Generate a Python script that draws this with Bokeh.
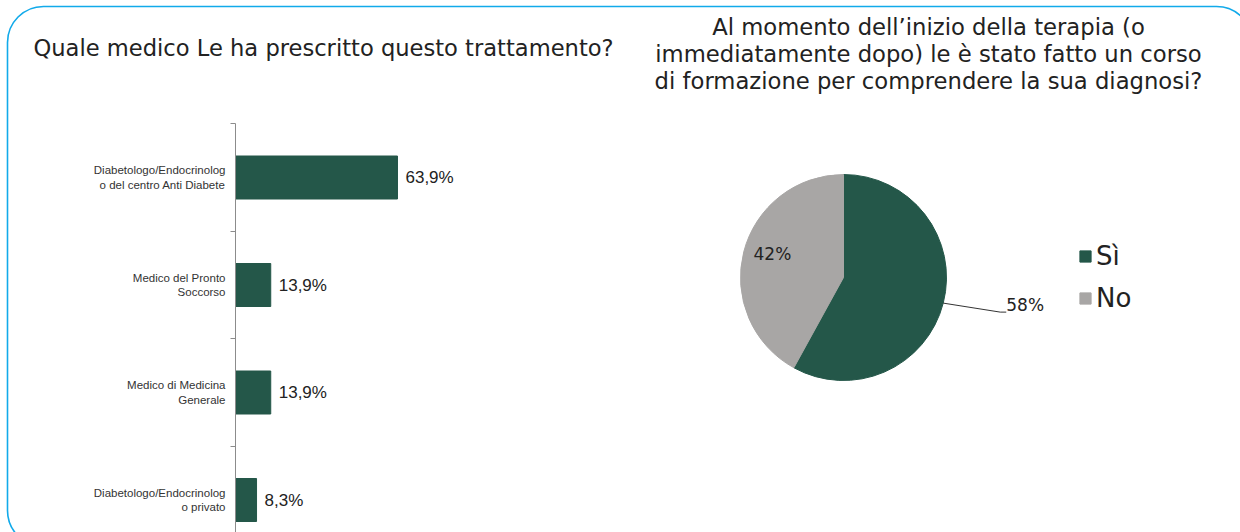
import math
from bokeh.plotting import figure
from bokeh.models import Range1d, FixedTicker, LinearAxis, BoxAnnotation, ColumnDataSource
from bokeh.embed import file_html
from bokeh.resources import INLINE
from bokeh.core.properties import value

# ---------------- data ----------------
bar_title = "Quale medico Le ha prescritto questo trattamento?"
bar_categories = [
    "Diabetologo/Endocrinolog\no del centro Anti Diabete",
    "Medico del Pronto\nSoccorso",
    "Medico di Medicina\nGenerale",
    "Diabetologo/Endocrinolog\no privato",
]
bar_values = [63.9, 13.9, 13.9, 8.3]

pie_title = [
    "Al momento dell\u2019inizio della terapia (o",
    "immediatamente dopo) le \u00e8 stato fatto un corso",
    "di formazione per comprendere la sua diagnosi?",
]
pie_labels = ["S\u00ec", "No"]
pie_values = [58, 42]

# ---------------- styles ----------------
GREEN = "#245749"
GREY = "#a8a6a5"
BORDER = "#12aaea"
TITLE_FONT = "DejaVu Sans"
TXT = "#222222"

W, H = 1240, 532

p = figure(width=W, height=H, x_range=Range1d(0, W), y_range=Range1d(0, H),
           output_backend="svg", toolbar_location=None, min_border=0,
           x_axis_location=None, y_axis_location=None, outline_line_color=None)
p.xgrid.visible = False
p.ygrid.visible = False

# rounded border
p.add_layout(BoxAnnotation(left=7, right=1252, top=H - 6, bottom=-14, border_radius=36,
                           fill_color=None, fill_alpha=0, line_color=BORDER,
                           line_alpha=1.0, line_width=1.6))

# ---------------- bar chart (own scales) ----------------
axis_x, px_per_unit = 235, 2.535       # where value 0 sits and px per percent
cat0_y, band = 177, 107.5              # centre of first category (from top), band height
p.extra_x_ranges = {"bar": Range1d(-axis_x / px_per_unit, (W - axis_x) / px_per_unit)}
p.extra_y_ranges = {"cat": Range1d((H - cat0_y) / band, -cat0_y / band)}

ys = list(range(len(bar_values)))
p.hbar(y=ys, left=0, right=bar_values, height=0.4, fill_color=GREEN, line_color=GREEN,
       x_range_name="bar", y_range_name="cat")
val_txt = [f"{v:.1f}".replace(".", ",") + "%" for v in bar_values]
p.text(x=bar_values, y=ys, text=val_txt, x_offset=8, text_baseline="middle",
       text_font=value("Liberation Sans"), text_font_size="17px", text_color=TXT,
       x_range_name="bar", y_range_name="cat")

ax = LinearAxis(
    x_range_name="bar", y_range_name="cat", fixed_location=0, bounds=(-0.5, 3.5),
    ticker=FixedTicker(ticks=ys, minor_ticks=[i - 0.5 for i in range(len(ys) + 1)]),
    major_label_overrides={i: lab for i, lab in enumerate(bar_categories)},
    major_tick_line_color=None, minor_tick_line_color="#8c8c8c",
    minor_tick_out=5, minor_tick_in=0, axis_line_color="#8c8c8c",
    major_label_text_font="Liberation Sans", major_label_text_font_size="11.5px",
    major_label_standoff=4, major_label_text_color="#333333",
)
p.add_layout(ax, "left")

p.text(x=[33], y=[H - 47], text=[bar_title], text_baseline="middle",
       text_font=value(TITLE_FONT), text_font_size="22.6px", text_color=TXT)

# ---------------- pie chart ----------------
cx, cy, R = 843, H - 277, 103
total = sum(pie_values)
starts, ends, mids = [], [], []
a = math.pi / 2
for v in pie_values:
    b = a - v / total * 2 * math.pi
    starts.append(b)
    ends.append(a)
    mids.append((a + b) / 2)
    a = b
src = ColumnDataSource(dict(start=starts, end=ends, label=pie_labels, color=[GREEN, GREY]))
p.wedge(x=cx, y=cy, radius=R, start_angle="start", end_angle="end", direction="anticlock",
        fill_color="color", line_color="color", source=src, legend_field="label")

pct = [f"{v}%" for v in pie_values]
ex = cx + R * math.cos(mids[0])
ey = cy + R * math.sin(mids[0])
p.line(x=[ex, ex + 57, ex + 63], y=[ey, ey - 9, ey - 9], line_color="#333333", line_width=1)
p.text(x=[ex + 63, 753], y=[ey - 2, H - 253], text=pct, text_baseline="middle",
       text_font=value(TITLE_FONT), text_font_size="17px", text_color=TXT)

p.text(x=[928] * 3, y=[H - 26, H - 53, H - 80], text=pie_title, text_align="center",
       text_baseline="middle", text_font=value(TITLE_FONT), text_font_size="22.7px",
       text_color=TXT)

lg = p.legend[0]
lg.location = (1078, 219)
lg.border_line_color = None
lg.background_fill_color = None
lg.glyph_width = 14
lg.glyph_height = 14
lg.label_text_font = TITLE_FONT
lg.label_text_font_size = "26px"
lg.label_text_color = TXT
lg.label_standoff = 4
lg.spacing = 12
lg.padding = 0
lg.margin = 0

open("out.html", "w").write(file_html(p, INLINE))
